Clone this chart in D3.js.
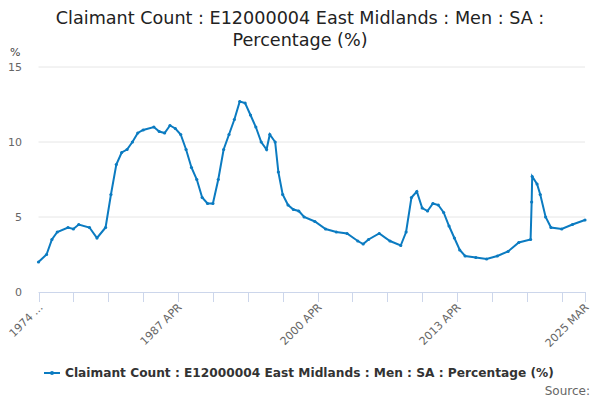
<!DOCTYPE html>
<html>
<head>
<meta charset="utf-8">
<script src="https://d3js.org/d3.v7.min.js"></script>
<style>
body { margin: 0; font-family: "DejaVu Sans", sans-serif; }
</style>
</head>
<body>
<script>
// decimal year (start 1974 APR) and percentage values
let years = [1974.25,1975,1975.5,1976,1977,1977.5,1978,1979,1979.7,1980.5,1981,1981.5,1982,1982.5,1983,1983.5,1984,
  1985,1985.5,1986,1986.5,1987,1987.5,1988,1988.5,1989,1989.5,1990,1990.5,1991,1991.5,1992,1992.5,1993,1993.5,
  1994,1994.5,1995,1995.5,1995.8,1996.3,1996.6,1997,1997.5,1998,1998.5,1999,2000,2001,2002,2003,2004,2004.5,
  2005,2006,2007,2008,2008.5,2009,2009.5,2010,2010.5,2011,2011.5,2012,2012.5,2013,2013.5,2014,2015,2016,2017,
  2018,2019,2020.1,2020.2,2020.25,2020.7,2021,2021.5,2022,2023,2024,2025.17];
let values = [2.0,2.5,3.5,4.0,4.3,4.2,4.5,4.3,3.6,4.3,6.5,8.5,9.3,9.5,10.0,10.6,10.8,
  11.0,10.7,10.6,11.1,10.9,10.5,9.5,8.3,7.5,6.3,5.9,5.9,7.5,9.5,10.5,11.5,12.7,12.6,
  11.8,11.0,10.0,9.5,10.5,10.0,8.0,6.5,5.8,5.5,5.4,5.0,4.7,4.2,4.0,3.9,3.4,3.2,
  3.5,3.9,3.4,3.1,4.0,6.3,6.7,5.6,5.4,5.9,5.8,5.3,4.4,3.6,2.8,2.4,2.3,2.2,2.4,
  2.7,3.3,3.5,6.0,7.7,7.2,6.5,5.0,4.3,4.2,4.5,4.8];
let yTicks = [0, 5, 10, 15];
let tickLabels = {0: "1974 ...", 4: "1987 APR", 8: "2000 APR", 12: "2013 APR"};
let endLabel = "2025 MAR";

let width = 600, height = 400;
let svg = d3.select("body").append("svg").attr("width", width).attr("height", height);

let x = d3.scaleLinear().domain([1974.25, 2025.17]).range([38.5, 585]);
let y = d3.scaleLinear().domain([0, 15]).range([292, 67]);

svg.append("text").attr("x", 300).attr("y", 24).attr("text-anchor", "middle")
  .attr("font-size", 17.6).attr("fill", "#222").text("Claimant Count : E12000004 East Midlands : Men : SA :");
svg.append("text").attr("x", 300).attr("y", 46).attr("text-anchor", "middle")
  .attr("font-size", 17.6).attr("fill", "#222").text("Percentage (%)");
svg.append("text").attr("x", 10).attr("y", 56).attr("font-size", 11).attr("fill", "#444").text("%");

// grid + y labels
yTicks.forEach(t => {
  if (t > 0) svg.append("line").attr("x1", 38.5).attr("x2", 585).attr("y1", y(t)).attr("y2", y(t))
    .attr("stroke", "#e6e6e6");
  svg.append("text").attr("x", 22).attr("y", y(t) + 4).attr("text-anchor", "end")
    .attr("font-size", 11).attr("fill", "#666").text(t);
});

// x axis
svg.append("line").attr("x1", 38.5).attr("x2", 585).attr("y1", 292.5).attr("y2", 292.5).attr("stroke", "#ccd6eb");
let tickYears = d3.range(0, 16).map(i => 1974.25 + i * 39 / 12).concat([2025.17]);
tickYears.forEach((t, i) => {
  let px = Math.round(x(t)) + 0.5;
  svg.append("line").attr("x1", px).attr("x2", px).attr("y1", 292).attr("y2", 302).attr("stroke", "#ccd6eb");
  let lab = i === tickYears.length - 1 ? endLabel : tickLabels[i];
  if (lab) svg.append("text").attr("transform", `translate(${px + 4},${308}) rotate(-45)`)
    .attr("text-anchor", "end").attr("font-size", 11).attr("fill", "#666").text(lab);
});

let pts = years.map((d, i) => [d, values[i]]);
svg.append("path").datum(pts).attr("fill", "none").attr("stroke", "#0b7bc1").attr("stroke-width", 2)
  .attr("d", d3.line().x(d => x(d[0])).y(d => y(d[1])));
svg.selectAll("circle.p").data(pts).join("circle").attr("class", "p")
  .attr("cx", d => x(d[0])).attr("cy", d => y(d[1])).attr("r", 1.6).attr("fill", "#0b7bc1");

// legend
svg.append("line").attr("x1", 44).attr("x2", 60).attr("y1", 373).attr("y2", 373).attr("stroke", "#0b7bc1").attr("stroke-width", 2);
svg.append("circle").attr("cx", 52).attr("cy", 373).attr("r", 2).attr("fill", "#0b7bc1");
svg.append("text").attr("x", 65).attr("y", 377).attr("font-size", 12.2).attr("font-weight", "bold").attr("fill", "#333")
  .text("Claimant Count : E12000004 East Midlands : Men : SA : Percentage (%)");
svg.append("text").attr("x", 590).attr("y", 395).attr("text-anchor", "end").attr("font-size", 12).attr("fill", "#666").text("Source:");
</script>
</body>
</html>
